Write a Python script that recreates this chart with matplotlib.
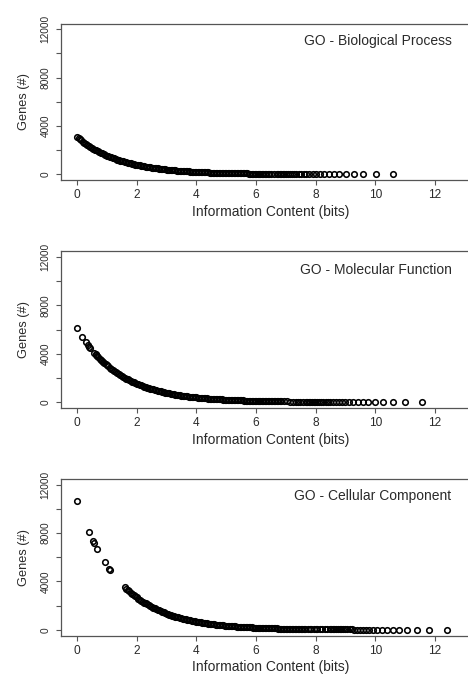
import matplotlib
matplotlib.use("Agg")
import matplotlib.pyplot as plt

plt.rcParams["font.family"] = ["Liberation Sans", "DejaVu Sans"]

## Axis ticks
x_ticks = [0, 2, 4, 6, 8, 10, 12]
y_ticks = [0, 2000, 4000, 6000, 8000, 10000, 12000]
y_ticklabels = ["0", "", "4000", "", "8000", "", "12000"]

#%% GO - Biological Process
bp_ic = [
    0.00, 0.05, 0.10, 0.15, 0.20, 0.25, 0.30, 0.35, 0.40, 0.45, 0.50, 0.55, 0.60, 0.65, 0.70, 0.75, 0.80, 0.85, 0.90, 0.95,
    1.00, 1.05, 1.10, 1.15, 1.20, 1.25, 1.30, 1.35, 1.40, 1.45, 1.50, 1.55, 1.60, 1.65, 1.70, 1.75, 1.80, 1.85, 1.90, 1.95,
    2.00, 2.05, 2.10, 2.15, 2.20, 2.25, 2.30, 2.35, 2.40, 2.45, 2.50, 2.55, 2.60, 2.65, 2.70, 2.75, 2.80, 2.85, 2.90, 2.95,
    3.00, 3.05, 3.10, 3.15, 3.20, 3.25, 3.30, 3.35, 3.40, 3.45, 3.50, 3.55, 3.60, 3.65, 3.70, 3.75, 3.80, 3.85, 3.90, 3.95,
    4.00, 4.05, 4.10, 4.15, 4.20, 4.25, 4.30, 4.35, 4.40, 4.45, 4.50, 4.55, 4.60, 4.65, 4.70, 4.75, 4.80, 4.85, 4.90, 4.95,
    5.00, 5.05, 5.10, 5.15, 5.20, 5.25, 5.30, 5.35, 5.40, 5.45, 5.50, 5.55, 5.60, 5.65, 5.70, 5.75, 5.80, 5.85, 5.90, 5.95,
    6.00, 6.05, 6.10, 6.15, 6.20, 6.25, 6.30, 6.35, 6.40, 6.45,
    6.51, 6.60, 6.69, 6.74, 6.79, 6.84, 6.90, 6.95, 7.01, 7.07, 7.14, 7.21, 7.28, 7.35, 7.43, 7.51,
    7.60, 7.69, 7.79, 7.90, 8.01, 8.14, 8.28, 8.43, 8.60, 8.79, 9.01, 9.28, 9.60, 10.01, 10.60,
]
bp_genes = [
    3100, 2994, 2892, 2794, 2699, 2607, 2518, 2432, 2349, 2269, 2192, 2117, 2045, 1976, 1908, 1843, 1780, 1720, 1661, 1605,
    1550, 1497, 1446, 1397, 1349, 1303, 1259, 1216, 1175, 1135, 1096, 1059, 1023, 988, 954, 922, 890, 860, 831, 802,
    775, 749, 723, 698, 675, 652, 629, 608, 587, 567, 548, 529, 511, 494, 477, 461, 445, 430, 415, 401,
    388, 374, 362, 349, 337, 326, 315, 304, 294, 284, 274, 265, 256, 247, 239, 230, 223, 215, 208, 201,
    194, 187, 181, 175, 169, 163, 157, 152, 147, 142, 137, 132, 128, 123, 119, 115, 111, 107, 104, 100,
    97, 94, 90, 87, 84, 81, 79, 76, 73, 71, 68, 66, 64, 62, 60, 58, 56, 54, 52, 50,
    48, 47, 45, 44, 42, 41, 39, 38, 37, 35,
    34, 32, 30, 29, 28, 27, 26, 25, 24, 23, 22, 21, 20, 19, 18, 17,
    16, 15, 14, 13, 12, 11, 10, 9, 8, 7, 6, 5, 4, 3, 2,
]

#%% GO - Molecular Function
mf_ic = [
    0.00, 0.18, 0.30, 0.36, 0.41, 0.44, 0.58, 0.62, 0.65, 0.68, 0.72, 0.76, 0.80, 0.85, 0.88, 0.92, 0.96,
    1.00, 1.05, 1.10, 1.15, 1.20, 1.25, 1.30, 1.35, 1.40, 1.45, 1.50, 1.55, 1.60, 1.65, 1.70, 1.75, 1.80, 1.85, 1.90, 1.95,
    2.00, 2.05, 2.10, 2.15, 2.20, 2.25, 2.30, 2.35, 2.40, 2.45, 2.50, 2.55, 2.60, 2.65, 2.70, 2.75, 2.80, 2.85, 2.90, 2.95,
    3.00, 3.05, 3.10, 3.15, 3.20, 3.25, 3.30, 3.35, 3.40, 3.45, 3.50, 3.55, 3.60, 3.65, 3.70, 3.75, 3.80, 3.85, 3.90, 3.95,
    4.00, 4.05, 4.10, 4.15, 4.20, 4.25, 4.30, 4.35, 4.40, 4.45, 4.50, 4.55, 4.60, 4.65, 4.70, 4.75, 4.80, 4.85, 4.90, 4.95,
    5.00, 5.05, 5.10, 5.15, 5.20, 5.25, 5.30, 5.35, 5.40, 5.45, 5.50, 5.55, 5.60, 5.65, 5.70, 5.75, 5.80, 5.85, 5.90, 5.95,
    6.00, 6.05, 6.10, 6.15, 6.20, 6.25, 6.30, 6.35, 6.40, 6.45, 6.50, 6.55, 6.60, 6.65, 6.70, 6.75, 6.80, 6.85,
    6.93, 7.05, 7.15, 7.25, 7.33, 7.41, 7.49, 7.58, 7.67, 7.72, 7.77, 7.82, 7.88, 7.93, 7.99, 8.05, 8.12, 8.18, 8.25,
    8.33, 8.41, 8.49, 8.58, 8.67, 8.77, 8.88, 8.99, 9.12, 9.25, 9.41, 9.58, 9.77, 9.99, 10.25, 10.58, 10.99, 11.58,
]
mf_genes = [
    6100, 5385, 4955, 4753, 4590, 4495, 4083, 3971, 3887, 3807, 3703, 3602, 3504, 3384, 3314, 3224, 3136,
    3050, 2946, 2846, 2749, 2655, 2565, 2477, 2393, 2311, 2233, 2157, 2083, 2012, 1944, 1877, 1814, 1752, 1692, 1634, 1579,
    1525, 1473, 1423, 1374, 1328, 1282, 1239, 1196, 1156, 1116, 1078, 1042, 1006, 972, 939, 907, 876, 846, 817, 789,
    763, 736, 711, 687, 664, 641, 619, 598, 578, 558, 539, 521, 503, 486, 469, 453, 438, 423, 409, 395,
    381, 368, 356, 344, 332, 321, 310, 299, 289, 279, 270, 260, 252, 243, 235, 227, 219, 212, 204, 197,
    191, 184, 178, 172, 166, 160, 155, 150, 144, 140, 135, 130, 126, 121, 117, 113, 110, 106, 102, 99,
    95, 92, 89, 86, 83, 80, 77, 75, 72, 70, 67, 65, 63, 61, 59, 57, 55, 53,
    50, 46, 43, 40, 38, 36, 34, 32, 30, 29, 28, 27, 26, 25, 24, 23, 22, 21, 20,
    19, 18, 17, 16, 15, 14, 13, 12, 11, 10, 9, 8, 7, 6, 5, 4, 3, 2,
]

#%% GO - Cellular Component
cc_ic = [
    0.00, 0.40, 0.54, 0.57, 0.68, 0.94, 1.08, 1.12,
    1.60, 1.65, 1.70, 1.75, 1.80, 1.85, 1.90, 1.95,
    2.00, 2.05, 2.10, 2.15, 2.20, 2.25, 2.30, 2.35, 2.40, 2.45, 2.50, 2.55, 2.60, 2.65, 2.70, 2.75, 2.80, 2.85, 2.90, 2.95,
    3.00, 3.05, 3.10, 3.15, 3.20, 3.25, 3.30, 3.35, 3.40, 3.45, 3.50, 3.55, 3.60, 3.65, 3.70, 3.75, 3.80, 3.85, 3.90, 3.95,
    4.00, 4.05, 4.10, 4.15, 4.20, 4.25, 4.30, 4.35, 4.40, 4.45, 4.50, 4.55, 4.60, 4.65, 4.70, 4.75, 4.80, 4.85, 4.90, 4.95,
    5.00, 5.05, 5.10, 5.15, 5.20, 5.25, 5.30, 5.35, 5.40, 5.45, 5.50, 5.55, 5.60, 5.65, 5.70, 5.75, 5.80, 5.85, 5.90, 5.95,
    6.00, 6.05, 6.10, 6.15, 6.20, 6.25, 6.30, 6.35, 6.40, 6.45, 6.50, 6.55, 6.60, 6.65, 6.70, 6.75, 6.80, 6.85, 6.90, 6.95,
    7.00, 7.05, 7.10, 7.15, 7.20, 7.25, 7.30, 7.35, 7.40, 7.45, 7.50, 7.55, 7.60, 7.65,
    7.74, 7.80, 7.86, 7.93, 8.00, 8.06, 8.14, 8.21, 8.30, 8.39, 8.48, 8.53, 8.58, 8.63, 8.69, 8.74, 8.80, 8.86, 8.93, 8.99,
    9.06, 9.14, 9.22, 9.30, 9.39, 9.48, 9.58, 9.68, 9.80, 9.93, 10.06, 10.22, 10.39, 10.58, 10.80, 11.06, 11.39, 11.80, 12.39,
]
cc_genes = [
    10700, 8109, 7359, 7207, 6679, 5577, 5061, 4923,
    3530, 3409, 3293, 3181, 3073, 2968, 2867, 2769,
    2675, 2584, 2496, 2411, 2329, 2249, 2173, 2099, 2027, 1958, 1892, 1827, 1765, 1705, 1647, 1591, 1536, 1484, 1434, 1385,
    1338, 1292, 1248, 1205, 1164, 1125, 1086, 1049, 1014, 979, 946, 914, 882, 852, 823, 795, 768, 742, 717, 692,
    669, 646, 624, 603, 582, 562, 543, 525, 507, 490, 473, 457, 441, 426, 412, 398, 384, 371, 358, 346,
    334, 323, 312, 301, 291, 281, 272, 262, 253, 245, 236, 228, 221, 213, 206, 199, 192, 186, 179, 173,
    167, 162, 156, 151, 146, 141, 136, 131, 127, 122, 118, 114, 110, 107, 103, 99, 96, 93, 90, 87,
    84, 81, 78, 75, 73, 70, 68, 66, 63, 61, 59, 57, 55, 53,
    50, 48, 46, 44, 42, 40, 38, 36, 34, 32, 30, 29, 28, 27, 26, 25, 24, 23, 22, 21,
    20, 19, 18, 17, 16, 15, 14, 13, 12, 11, 10, 9, 8, 7, 6, 5, 4, 3, 2,
]

titles = ["GO - Biological Process", "GO - Molecular Function", "GO - Cellular Component"]
series = [(bp_ic, bp_genes), (mf_ic, mf_genes), (cc_ic, cc_genes)]
title_y = [11050, 10950, 11100]

## Layout: three stacked panels, right edge of the box runs off the page
bottoms = [0.7337, 0.3967, 0.0599]
text_col = "#2a2a2a"
box_col = "#555555"

fig = plt.figure(figsize=(4.68, 6.76), dpi=100)

for (ic, genes), title, ty, b in zip(series, titles, title_y, bottoms):
    ax = fig.add_axes([0.1314, b, 0.895, 0.2315])
    ax.plot(ic, genes, linestyle="none", marker="o", markersize=4.0,
            markerfacecolor="none", markeredgecolor="black", markeredgewidth=1.15)
    ax.set_xlim(-0.52, 13.52)
    ax.set_ylim(-480, 12480)
    ax.set_xticks(x_ticks)
    ax.set_yticks(y_ticks)
    ax.set_yticklabels(y_ticklabels, rotation=90, va="center")
    ax.tick_params(direction="out", length=3.8, width=0.8, color=box_col,
                   labelcolor=text_col)
    ax.tick_params(axis="x", pad=3, labelsize=8.6)
    ax.tick_params(axis="y", pad=4, labelsize=7.3)
    for s in ax.spines.values():
        s.set_color(box_col)
        s.set_linewidth(0.9)
    ax.set_xlabel("Information Content (bits)", fontsize=10, color=text_col, labelpad=2.5)
    ax.set_ylabel("Genes (#)", fontsize=9.2, color=text_col, labelpad=8)
    ax.text(12.55, ty, title, ha="right", va="center", fontsize=10, color=text_col)

fig.savefig("out.png", dpi=100)
